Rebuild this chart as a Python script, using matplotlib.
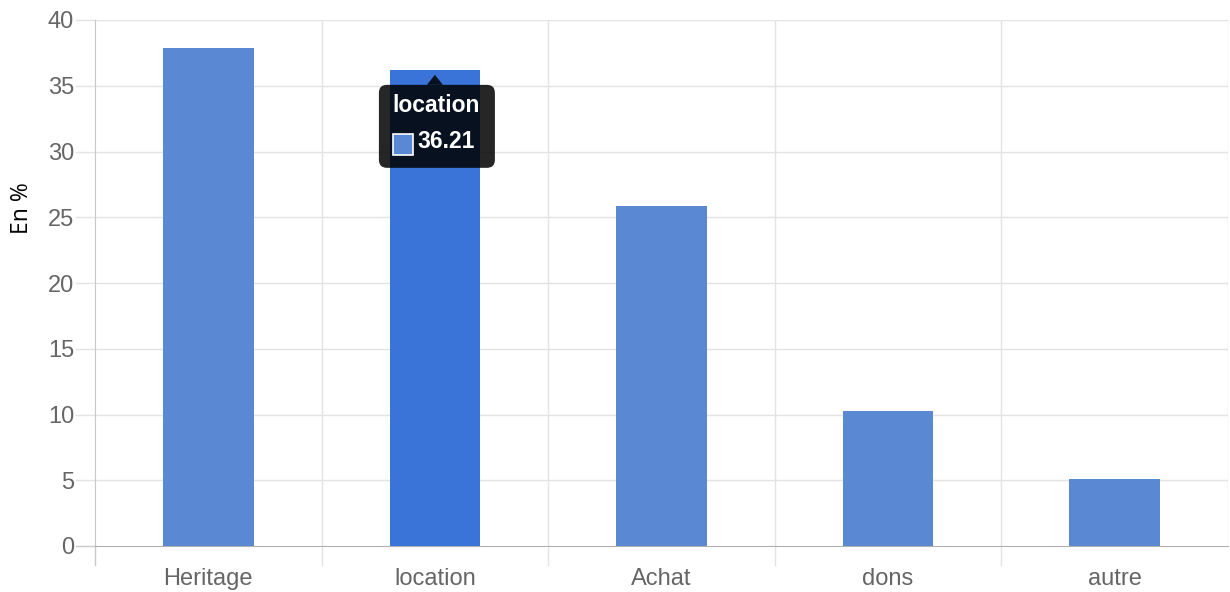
import matplotlib
matplotlib.use("Agg")
import matplotlib.pyplot as plt
from matplotlib.patches import FancyBboxPatch, Polygon, Rectangle

categories = ["Heritage", "location", "Achat", "dons", "autre"]
values = [37.9, 36.21, 25.86, 10.3, 5.1]
y_ticks = [0, 5, 10, 15, 20, 25, 30, 35, 40]
highlight = 1

bar_color = "#5b88d3"
hl_color = "#3a74d9"
grid_color = "#e3e3e3"
tick_color = "#666666"

plt.rcParams["font.family"] = ["Liberation Sans", "DejaVu Sans"]

fig = plt.figure(figsize=(12.3, 5.92), dpi=100)
ax = fig.add_axes([95 / 1230, 1 - 546 / 592, (1228 - 95) / 1230, (546 - 20) / 592])

x = list(range(len(categories)))
colors = [hl_color if i == highlight else bar_color for i in x]
ax.bar(x, values, width=0.4, color=colors, zorder=3)

ax.set_xlim(-0.5, len(categories) - 0.5)
ax.set_ylim(0, 40)
ax.set_yticks(y_ticks)
ax.set_xticks(x)
ax.set_xticklabels(categories)

# pixel scale helpers (axes px per data unit)
px_x = (1228 - 95) / len(categories)
px_y = (546 - 20) / 40.0

# grid
for yt in y_ticks[1:]:
    ax.axhline(yt, color=grid_color, lw=1, zorder=1)
for b in [i + 0.5 for i in x[:-1]]:
    ax.axvline(b, color=grid_color, lw=1, zorder=1)
    ax.plot([b, b], [0, -19 / px_y], color=grid_color, lw=1, clip_on=False, zorder=1)
ax.plot([-0.5, -0.5], [0, -19 / px_y], color="#c8c8c8", lw=1, clip_on=False)
for yt in y_ticks:
    ax.plot([-0.5, -0.5 - 19 / px_x], [yt, yt],
            color=("#c8c8c8" if yt == 0 else grid_color), lw=1, clip_on=False)
ax.axvline(len(categories) - 0.5, color=grid_color, lw=1, zorder=1)

for s in ["top", "right"]:
    ax.spines[s].set_visible(False)
ax.spines["left"].set_color("#c8c8c8")
ax.spines["bottom"].set_color("#b0b0b0")
ax.tick_params(axis="both", length=0, colors=tick_color, labelsize=17)
ax.tick_params(axis="x", pad=16)
ax.tick_params(axis="y", pad=15)

fig.text(22 / 1230, 1 - 208 / 592, "En %", rotation=90, ha="center", va="center",
         fontsize=16.5, color="black", family=["Open Sans", "DejaVu Sans"])

# tooltip
v = values[highlight]
xc = x[highlight]
dark = (0, 0, 0, 0.85)
box = FancyBboxPatch((xc - 56 / px_x, v - 98 / px_y), 116 / px_x, 83 / px_y,
                     boxstyle="round,pad=0,rounding_size=%f" % (8 / px_x),
                     mutation_aspect=px_x / px_y,
                     facecolor=dark, edgecolor="none", zorder=5)
ax.add_patch(box)
ax.add_patch(Polygon([[xc - 8 / px_x, v - 15 / px_y], [xc + 8 / px_x, v - 15 / px_y],
                      [xc, v - 5 / px_y]],
                     closed=True, facecolor=dark, edgecolor="none", zorder=5))
ax.text(xc - 43 / px_x, v - 36 / px_y, categories[highlight], color="white", fontsize=16.5,
        fontweight="bold", ha="left", va="center", zorder=6)
ax.add_patch(Rectangle((xc - 42 / px_x, v - 85 / px_y), 20 / px_x, 21 / px_y,
                       facecolor=bar_color, edgecolor="white", lw=1.2, zorder=6))
ax.text(xc - 17 / px_x, v - 72 / px_y, f"{v:.2f}", color="white", fontsize=16.5,
        fontweight="bold", ha="left", va="center", zorder=6)

fig.savefig("out.png", dpi=100)
